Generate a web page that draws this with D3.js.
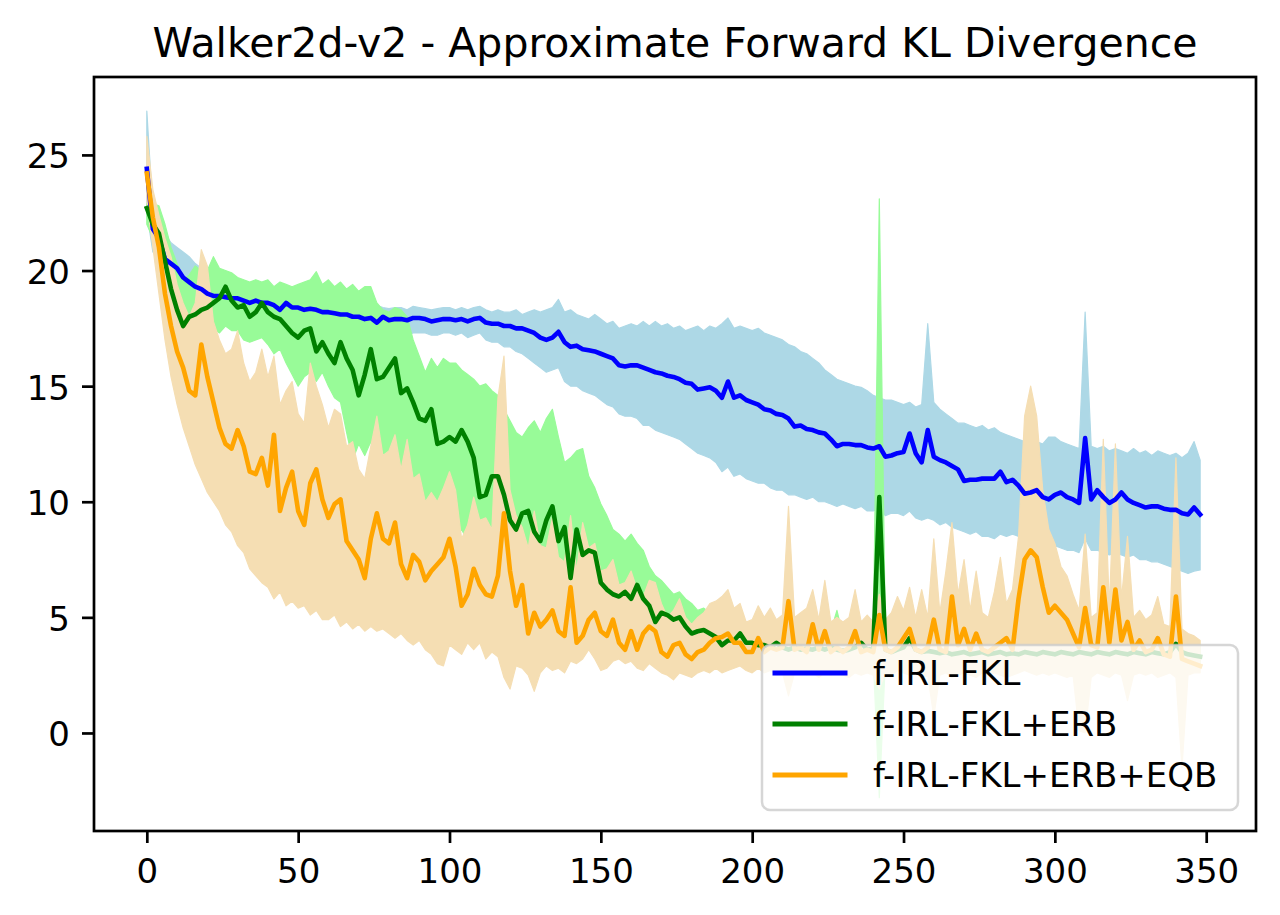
<!DOCTYPE html>
<html>
<head>
<meta charset="utf-8">
<script src="https://cdn.jsdelivr.net/npm/d3@7"></script>
<style>
  html, body { margin: 0; padding: 0; background: #fff; }
  svg { display: block; font-family: "DejaVu Sans", sans-serif; }
</style>
</head>
<body>
<div id="chart"></div>
<script>
// iterations, one sample every 2 steps
const steps = d3.range(0, 350, 2);

const fklMean = [
  24.4, 21.8, 21.4, 20.5, 20.3, 20.1, 19.7, 19.5, 19.3, 19.2,
  19.0, 18.9, 18.9, 18.85, 18.8, 18.8, 18.7, 18.6, 18.7, 18.6,
  18.6, 18.5, 18.3, 18.6, 18.4, 18.4, 18.3, 18.35, 18.3, 18.2,
  18.2, 18.15, 18.1, 18.1, 18.0, 18.0, 17.9, 17.95, 17.75, 18.0,
  17.85, 17.9, 17.9, 17.85, 17.95, 17.95, 17.9, 17.8, 17.85, 17.9,
  17.9, 17.85, 17.9, 17.8, 17.9, 17.95, 17.75, 17.7, 17.7, 17.6,
  17.6, 17.5, 17.5, 17.4, 17.3, 17.1, 17.0, 17.1, 17.35, 16.9,
  16.7, 16.75, 16.6, 16.55, 16.5, 16.4, 16.3, 16.2, 15.9, 15.85,
  15.9, 15.9, 15.8, 15.7, 15.6, 15.55, 15.45, 15.4, 15.3, 15.15,
  15.1, 14.85, 14.9, 14.95, 14.8, 14.5, 15.2, 14.5, 14.6, 14.4,
  14.3, 14.2, 14.0, 13.95, 13.8, 13.75, 13.6, 13.25, 13.3, 13.15,
  13.1, 13.0, 12.95, 12.7, 12.4, 12.5, 12.5, 12.45, 12.45, 12.35,
  12.3, 12.4, 11.95, 12.0, 12.1, 12.15, 12.95, 12.1, 11.7, 13.1,
  11.95, 11.8, 11.7, 11.55, 11.4, 10.9, 10.95, 10.95, 11.0, 11.0,
  11.0, 11.3, 10.85, 10.95, 10.7, 10.35, 10.4, 10.5, 10.2, 10.1,
  10.3, 10.4, 10.2, 10.1, 9.95, 12.75, 10.1, 10.5, 10.2, 9.95,
  10.1, 10.4, 10.1, 9.95, 9.85, 9.75, 9.8, 9.8, 9.7, 9.65,
  9.65, 9.5, 9.45, 9.75, 9.45
];
const fklHigh = [
  26.9, 22.6, 22.0, 21.6, 21.2, 21.0, 20.8, 20.6, 20.3, 20.1,
  19.9, 20.0, 19.8, 19.7, 19.6, 19.5, 19.3, 19.2, 19.3, 19.1,
  19.1, 19.0, 19.1, 19.0, 18.9, 19.0, 18.9, 18.9, 18.8, 18.7,
  18.8, 18.7, 18.7, 18.6, 18.7, 18.6, 18.5, 18.6, 18.5, 18.4,
  18.35, 18.4, 18.4, 18.3, 18.45, 18.4, 18.35, 18.3, 18.35, 18.4,
  18.4, 18.3, 18.4, 18.3, 18.4, 18.45, 18.3, 18.2, 18.3, 18.2,
  18.2, 18.3, 18.1, 18.2, 18.3, 18.2, 18.3, 18.4, 18.75, 18.2,
  18.3, 18.1, 18.0, 17.9, 18.1, 17.9, 17.7, 17.8, 17.5, 17.6,
  17.7, 17.6, 17.8, 17.6, 17.8, 17.6, 17.7, 17.5, 17.6, 17.4,
  17.5, 17.6, 17.4, 17.6, 17.5, 17.7, 17.95, 17.5, 17.6, 17.5,
  17.4, 17.5, 17.3, 17.2, 17.1, 17.0, 16.8, 16.7, 16.5, 16.4,
  16.2, 16.0, 15.7, 15.5, 15.3, 15.2, 15.1, 15.0, 14.95, 14.8,
  14.6, 14.5, 14.4, 14.4, 14.3, 14.2, 14.3, 14.1, 14.2, 17.7,
  14.3, 14.0, 13.8, 13.6, 13.4, 13.4, 13.3, 13.2, 13.3, 13.1,
  13.2, 13.0, 12.9, 12.8, 12.7, 12.6, 12.7, 12.6, 12.5, 12.8,
  12.8, 12.6, 12.5, 12.4, 12.3, 18.2, 12.4, 12.3, 12.4, 12.2,
  12.3, 12.2, 12.1, 12.3, 12.1, 12.2, 12.0, 12.2, 12.1, 12.0,
  12.1, 11.9, 12.1, 12.6, 11.8
];
const fklLow = [
  22.5, 20.8, 20.6, 19.8, 19.6, 19.4, 19.1, 18.9, 18.7, 18.6,
  18.5, 18.4, 18.3, 18.2, 18.2, 18.1, 18.0, 17.9, 18.0, 17.9,
  17.9, 17.8, 17.7, 17.8, 17.6, 17.7, 17.6, 17.6, 17.6, 17.5,
  17.6, 17.5, 17.5, 17.4, 17.4, 17.4, 17.3, 17.3, 17.2, 17.2,
  17.2, 17.3, 17.3, 17.2, 17.3, 17.3, 17.3, 17.2, 17.2, 17.3,
  17.3, 17.2, 17.3, 17.1, 17.2, 17.3, 17.0, 16.9, 16.9, 16.7,
  16.7, 16.5, 16.4, 16.2, 16.0, 15.8, 15.6, 15.7, 15.8, 15.2,
  15.0, 15.0, 14.8, 14.7, 14.6, 14.4, 14.2, 14.1, 13.8, 13.7,
  13.7, 13.6, 13.3, 13.3, 13.1, 13.0, 12.9, 12.8, 12.7, 12.5,
  12.3, 12.1, 12.0, 11.9, 11.7, 11.3, 11.5, 11.1, 11.2, 11.0,
  10.9, 10.8, 10.8, 10.6, 10.5, 10.5, 10.3, 10.3, 10.2, 10.1,
  10.2, 10.0, 10.0, 9.9, 9.8, 9.9, 9.8, 9.7, 9.8, 9.6,
  9.6, 9.7, 9.4, 9.5, 9.5, 9.4, 9.6, 9.3, 9.2, 9.3,
  9.2, 9.0, 9.1, 8.9, 8.8, 8.7, 8.6, 8.7, 8.5, 8.5,
  8.4, 8.6, 8.5, 8.6, 8.5, 8.3, 8.2, 8.3, 8.1, 8.0,
  8.1, 8.0, 7.9, 7.9, 7.8, 8.4, 7.9, 7.9, 7.8, 7.7,
  7.8, 7.7, 7.6, 7.7, 7.5, 7.5, 7.4, 7.4, 7.3, 7.2,
  7.1, 7.0, 6.9, 7.0, 7.05
];

const erbMean = [
  22.7, 22.0, 21.6, 20.4, 19.2, 18.3, 17.6, 18.0, 18.1, 18.3,
  18.4, 18.6, 18.8, 19.3, 18.7, 18.4, 18.5, 18.0, 18.2, 18.6,
  18.2, 18.0, 17.9, 17.6, 17.3, 17.1, 17.4, 17.5, 16.5, 16.9,
  16.4, 16.0, 16.9, 16.2, 15.7, 14.6, 15.5, 16.6, 15.3, 15.4,
  15.8, 16.2, 14.7, 14.9, 14.3, 13.6, 13.5, 14.0, 12.5, 12.6,
  12.8, 12.6, 13.1, 12.6, 11.9, 10.2, 10.3, 11.1, 11.1, 10.3,
  9.2, 8.8, 9.5, 9.6, 8.7, 8.3, 9.2, 9.8, 8.3, 8.9,
  6.7, 8.8, 7.7, 7.9, 7.8, 6.5, 6.2, 6.0, 5.9, 6.1,
  5.8, 6.4, 5.8, 5.5, 4.8, 5.2, 5.1, 4.9, 5.0, 4.6,
  4.3, 4.4, 4.45, 4.3, 4.15, 3.8, 4.0, 4.0, 4.3, 3.9,
  3.9, 3.8, 3.8, 3.7, 3.9, 3.7, 3.6, 3.7, 3.6, 3.65,
  3.6, 3.7, 3.6, 3.7, 3.6, 3.55, 3.6, 3.7, 3.9, 3.6,
  3.65, 10.2, 3.6, 3.5, 3.6, 3.7, 4.1, 3.6, 3.5, 3.55,
  3.5, 3.45, 3.5, 3.4, 3.45, 3.5, 3.4, 3.45, 3.5, 3.4,
  3.45, 3.5, 3.4, 3.45, 3.4, 3.5, 3.45, 3.4, 3.5, 3.45,
  3.4, 3.5, 3.45, 3.4, 3.5, 3.45, 3.4, 3.5, 3.45, 3.4,
  3.5, 3.45, 3.4, 3.5, 3.45, 3.4, 3.5, 3.45, 3.4, 3.5,
  3.85, 3.5, 3.4, 3.35, 3.3
];
const erbHigh = [
  22.9, 22.9, 22.8, 22.0, 21.0, 20.3, 19.6, 19.8, 20.2, 20.0,
  20.0, 20.6, 20.1, 20.0, 19.9, 19.7, 19.6, 19.5, 19.6, 19.5,
  19.6, 19.3, 19.5, 19.4, 19.3, 19.4, 19.5, 19.6, 19.95, 19.4,
  19.6, 19.3, 19.5, 19.2, 19.4, 19.1, 19.3, 19.3, 18.6, 18.3,
  18.2, 18.4, 18.3, 18.0, 17.0, 16.3, 15.6, 16.2, 15.8, 16.2,
  16.0, 16.0, 15.7, 15.5, 15.3, 15.0, 15.1, 14.8, 14.6, 14.0,
  13.5, 13.0, 12.8, 13.2, 13.5, 13.0, 13.6, 14.0, 12.8, 11.7,
  11.9, 12.2, 12.3, 11.1, 10.6, 9.9, 9.4, 8.8, 8.6, 8.3,
  8.6, 8.2, 7.9, 7.2, 6.8, 6.6, 6.3, 6.0, 6.1, 5.8,
  5.6, 5.3, 5.4, 5.2, 5.0, 4.8, 5.1, 4.9, 5.1, 4.6,
  4.5, 4.4, 4.3, 4.4, 4.3, 4.2, 4.1, 4.2, 4.1, 4.2,
  4.1, 4.2, 4.1, 4.4, 5.3, 4.2, 4.1, 4.2, 4.4, 4.1,
  4.2, 23.1, 4.2, 4.0, 4.1, 4.2, 4.5, 4.1, 4.0, 4.0,
  3.95, 3.9, 4.0, 3.9, 3.95, 4.0, 3.9, 3.95, 3.9, 4.0,
  3.9, 3.95, 4.0, 3.9, 3.95, 3.9, 4.0, 3.9, 3.95, 3.9,
  4.0, 3.9, 3.95, 3.9, 4.0, 3.9, 3.95, 4.0, 3.9, 3.95,
  3.9, 4.0, 3.9, 3.95, 3.9, 4.0, 3.9, 3.95, 3.9, 4.0,
  4.1, 4.0, 3.9, 3.9, 3.8
];
const erbLow = [
  22.0, 21.4, 20.4, 19.4, 18.2, 17.4, 16.8, 16.9, 17.0, 17.2,
  17.3, 17.5, 17.3, 17.6, 17.4, 17.4, 17.0, 16.9, 17.0, 17.1,
  16.8, 16.4, 16.6, 16.0, 15.5, 15.0, 15.4, 15.6, 15.2, 15.6,
  15.0, 14.5, 14.3, 13.0, 11.8, 12.5, 12.0, 12.6, 11.6, 11.8,
  11.1, 11.6, 11.3, 10.8, 11.0, 10.4, 10.0, 8.9, 9.4, 9.1,
  9.3, 8.5, 8.8, 8.3, 8.2, 7.6, 7.4, 7.5, 7.0, 6.9,
  6.4, 6.1, 5.9, 5.7, 5.9, 5.45, 5.6, 5.8, 5.3, 5.1,
  5.0, 5.2, 4.8, 4.6, 4.1, 4.2, 4.1, 4.3, 4.0, 3.9,
  3.8, 3.7, 3.8, 3.9, 3.6, 3.7, 3.6, 3.6, 3.5, 3.6,
  3.5, 3.4, 3.5, 3.4, 3.3, 3.2, 3.3, 3.2, 3.3, 3.2,
  3.2, 3.1, 3.2, 3.1, 3.2, 3.1, 3.2, 3.1, 3.2, 3.1,
  3.1, 3.2, 3.1, 3.2, 3.1, 3.1, 3.2, 3.1, 3.2, 3.1,
  3.2, -2.8, 3.1, 3.0, 3.1, 3.2, 3.3, 3.1, 3.0, 3.1,
  3.0, 3.1, 3.0, 3.1, 3.0, 3.1, 3.0, 3.1, 3.0, 3.0,
  3.1, 3.0, 3.1, 3.0, 3.0, 3.1, 3.0, 3.1, 3.0, 3.1,
  3.0, 3.1, 3.0, 3.0, 3.1, 3.0, 3.1, 3.0, 3.0, 3.1,
  3.0, 3.1, 3.0, 3.1, 3.0, 3.0, 3.1, 3.0, 3.1, 3.0,
  3.3, 3.1, 3.0, 2.9, 2.9
];

const eqbMean = [
  24.2, 22.3, 21.0, 19.0, 17.6, 16.5, 15.8, 14.8, 14.6, 16.8,
  15.4, 14.3, 13.2, 12.5, 12.3, 13.1, 12.4, 11.3, 11.2, 11.9,
  10.7, 12.9, 9.6, 10.6, 11.3, 9.6, 9.0, 10.8, 11.4, 10.1,
  9.3, 9.9, 10.1, 8.3, 7.9, 7.5, 6.7, 8.4, 9.5, 8.4,
  8.2, 9.1, 7.3, 6.7, 7.7, 7.4, 6.6, 7.0, 7.3, 7.6,
  8.4, 7.2, 5.5, 6.0, 7.1, 6.4, 6.0, 5.9, 6.8, 9.5,
  7.0, 5.5, 6.4, 4.3, 5.2, 4.6, 4.9, 5.3, 4.4, 4.2,
  6.3, 3.9, 4.2, 4.9, 5.2, 4.4, 4.2, 4.9, 3.9, 3.6,
  4.4, 3.6, 4.3, 4.6, 4.4, 3.5, 3.3, 3.8, 3.9, 3.4,
  3.2, 3.5, 3.6, 3.9, 4.1, 4.15, 4.3, 3.9, 3.9, 3.5,
  3.5, 4.1, 3.5, 3.7, 3.6, 3.7, 5.7, 3.6, 3.7, 3.5,
  4.7, 3.6, 4.4, 3.5, 3.7, 3.5, 3.7, 4.4, 3.5, 3.6,
  3.5, 5.1, 3.6, 3.5, 3.7, 4.1, 4.5, 3.6, 3.5, 3.7,
  4.9, 3.6, 3.5, 5.9, 3.8, 4.5, 3.6, 4.3, 3.6, 3.5,
  3.7, 3.9, 4.1, 3.6, 5.8, 7.5, 7.9, 7.6, 6.3, 5.2,
  5.5, 5.2, 4.9, 4.3, 3.7, 5.4, 3.8, 3.7, 6.3, 3.9,
  6.2, 4.0, 4.8, 3.6, 4.0, 3.5, 3.6, 4.1, 3.4, 3.3,
  5.9, 3.2, 3.1, 3.0, 2.9
];
const eqbHigh = [
  25.8, 23.5, 22.4, 21.4, 20.6, 19.4, 18.6, 18.0, 18.6, 20.9,
  20.2, 17.8, 17.0, 16.4, 16.6, 17.4, 16.0, 15.2, 15.6, 16.6,
  15.4, 16.3, 14.2, 14.8, 15.2, 13.8, 13.4, 16.0, 15.0, 14.2,
  13.2, 14.0, 13.8, 12.4, 12.6, 11.4, 11.0, 12.4, 13.7, 12.0,
  12.2, 12.9, 11.4, 12.7, 11.0, 11.2, 10.0, 10.4, 10.0, 10.6,
  11.3, 10.5, 8.4, 9.0, 10.2, 9.2, 9.3, 8.8, 14.5, 16.3,
  10.5, 9.4, 8.9, 8.0, 9.6, 8.1, 8.0, 9.3, 7.6, 7.4,
  9.4, 7.0, 9.1, 8.0, 8.2, 7.0, 7.1, 7.5, 6.4, 6.5,
  7.0, 6.2, 5.9, 6.6, 6.5, 5.6, 5.0, 5.3, 5.8, 5.0,
  4.7, 5.0, 5.2, 5.6, 5.7, 5.9, 6.2, 5.4, 5.6, 4.8,
  4.9, 5.5, 5.0, 5.4, 4.9, 5.1, 9.8, 5.0, 5.2, 5.4,
  6.2, 4.9, 6.6, 4.8, 5.0, 4.8, 5.0, 6.2, 4.8, 5.1,
  4.8, 6.0, 4.9, 5.2, 5.9, 5.3, 6.3, 5.0, 6.2, 5.0,
  8.4, 5.2, 7.0, 9.1, 6.0, 7.5, 5.3, 7.0, 5.2, 5.0,
  6.1, 7.6, 5.6, 6.2, 8.5, 13.7, 15.0, 13.7, 10.5, 8.8,
  8.2, 7.2, 6.8, 6.0, 5.3, 8.6, 5.0, 5.2, 12.7, 5.4,
  12.5, 5.8, 8.5, 5.0, 5.3, 4.9, 5.1, 5.9, 4.7, 4.6,
  11.9, 4.5, 4.3, 4.2, 4.0
];
const eqbLow = [
  23.0, 21.0, 19.0, 17.0, 15.4, 14.2, 13.2, 12.4, 11.6, 11.0,
  10.4, 10.0, 9.6, 9.0, 8.7, 8.1, 7.8, 7.1, 6.8, 6.5,
  6.3, 5.8, 6.1, 5.5, 5.7, 5.4, 5.5, 5.1, 5.3, 4.9,
  4.9, 5.1, 4.6, 4.8, 4.5, 4.7, 4.4, 4.6, 4.4, 4.5,
  4.3, 4.1, 4.3, 4.0, 3.8, 4.0, 3.6, 3.4, 3.0, 2.9,
  3.8, 3.6, 3.4, 3.9, 3.6, 3.9, 3.2, 3.5, 3.3, 2.4,
  1.9, 2.9, 2.8, 2.5, 1.8, 2.6, 2.9, 2.7, 2.8, 2.6,
  3.1, 3.0, 3.2, 3.6, 3.2, 2.7, 2.8, 3.1, 3.2, 3.0,
  3.1, 2.8, 2.7, 3.0, 2.8, 2.6, 2.5, 2.3, 2.6, 2.5,
  2.4, 2.6, 2.7, 2.6, 2.8, 2.6, 2.7, 2.8, 2.9, 2.7,
  2.6, 2.8, 2.6, 2.7, 2.5, 2.6, 1.6, 2.6, 2.7, 2.5,
  2.6, 2.4, 2.6, 2.5, 2.6, 2.5, 2.4, 2.6, 2.5, 2.6,
  2.5, 1.9, 2.6, 2.5, 2.7, 2.6, 2.5, 2.6, 2.4, 2.5,
  0.7, 2.5, 2.6, 2.4, 2.5, 2.6, 2.5, 2.4, 2.6, 2.5,
  2.6, 2.5, 2.4, 2.5, 2.6, 2.7, 2.6, 2.5, 2.6, 2.5,
  2.6, 2.5, 2.4, 2.5, 0.1, 0.0, 2.4, 2.6, 2.5, 2.4,
  2.6, 2.5, 1.4, 2.5, 2.6, 2.5, 2.6, 2.4, 2.5, 2.6,
  2.4, -1.5, 2.5, 2.6, 2.6
];

const xTicks = [0, 50, 100, 150, 200, 250, 300, 350];
const yTicks = [0, 5, 10, 15, 20, 25];

const series = [
  { name: "f-IRL-FKL", mean: fklMean, low: fklLow, high: fklHigh, line: "blue", band: "lightblue" },
  { name: "f-IRL-FKL+ERB", mean: erbMean, low: erbLow, high: erbHigh, line: "green", band: "palegreen" },
  { name: "f-IRL-FKL+ERB+EQB", mean: eqbMean, low: eqbLow, high: eqbHigh, line: "orange", band: "wheat" }
];

const width = 1280, height = 915;
const plot = { left: 94, right: 1256, top: 77, bottom: 831 };

const svg = d3.select("#chart").append("svg")
    .attr("width", width)
    .attr("height", height);

const x = d3.scaleLinear().domain([-17.45, 366.45]).range([plot.left, plot.right]);
const y = d3.scaleLinear().domain([-4.24, 28.37]).range([plot.bottom, plot.top]);

// shaded bands first, then the mean lines on top (matplotlib zorder)
svg.append("g").selectAll("path")
    .data(series)
    .enter().append("path")
    .attr("d", s => d3.area()
        .x((d, i) => x(steps[i]))
        .y0((d, i) => y(s.low[i]))
        .y1((d, i) => y(s.high[i]))(s.mean))
    .attr("fill", s => s.band)
    .attr("stroke", s => s.band)
    .attr("stroke-width", 1.2)
    .attr("stroke-linejoin", "round");

svg.append("g").selectAll("path")
    .data(series)
    .enter().append("path")
    .attr("d", s => d3.line()
        .x((d, i) => x(steps[i]))
        .y(d => y(d))(s.mean))
    .attr("fill", "none")
    .attr("stroke", s => s.line)
    .attr("stroke-width", 4.6)
    .attr("stroke-linejoin", "round")
    .attr("stroke-linecap", "square");

// axes
const xAxis = svg.append("g")
    .attr("transform", `translate(0,${plot.bottom})`)
    .call(d3.axisBottom(x).tickValues(xTicks).tickSize(12).tickPadding(16).tickFormat(d3.format("d")));
const yAxis = svg.append("g")
    .attr("transform", `translate(${plot.left},0)`)
    .call(d3.axisLeft(y).tickValues(yTicks).tickSize(12).tickPadding(12).tickFormat(d3.format("d")));

[xAxis, yAxis].forEach(g => {
    g.select(".domain").remove();
    g.selectAll(".tick line").attr("stroke", "#000").attr("stroke-width", 2.7);
    g.selectAll(".tick text")
        .attr("fill", "#000")
        .attr("font-size", 34)
        .attr("font-family", "DejaVu Sans, sans-serif");
});
yAxis.selectAll(".tick text").attr("dy", "0.38em");

// frame
svg.append("rect")
    .attr("x", plot.left)
    .attr("y", plot.top)
    .attr("width", plot.right - plot.left)
    .attr("height", plot.bottom - plot.top)
    .attr("fill", "none")
    .attr("stroke", "#000")
    .attr("stroke-width", 2.7);

// title
svg.append("text")
    .attr("x", (plot.left + plot.right) / 2)
    .attr("y", 57)
    .attr("text-anchor", "middle")
    .attr("font-size", 41)
    .attr("fill", "#000")
    .text("Walker2d-v2 - Approximate Forward KL Divergence");

// legend, lower right, semi-transparent frame
const legend = svg.append("g");
legend.append("rect")
    .attr("x", 762)
    .attr("y", 645)
    .attr("width", 476)
    .attr("height", 165)
    .attr("rx", 8)
    .attr("fill", "#fff")
    .attr("fill-opacity", 0.8)
    .attr("stroke", "#cccccc")
    .attr("stroke-opacity", 0.8)
    .attr("stroke-width", 2.5);

const rows = legend.selectAll("g.row")
    .data(series)
    .enter().append("g")
    .attr("class", "row")
    .attr("transform", (d, i) => `translate(0,${673 + i * 51})`);
rows.append("line")
    .attr("x1", 775)
    .attr("x2", 845)
    .attr("stroke", d => d.line)
    .attr("stroke-width", 5)
    .attr("stroke-linecap", "square");
rows.append("text")
    .attr("x", 873)
    .attr("y", 12)
    .attr("font-size", 34)
    .attr("fill", "#000")
    .text(d => d.name);
</script>
</body>
</html>
